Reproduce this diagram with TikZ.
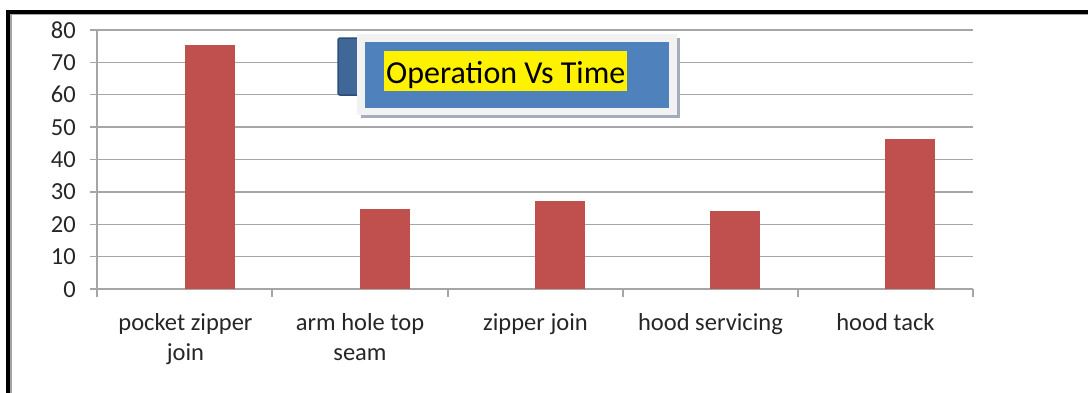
\documentclass[tikz,border=0pt]{standalone}
\usepackage{fontspec}
\setmainfont{Carlito}
\usepackage{tikz}
\usetikzlibrary{positioning}
\definecolor{barred}{HTML}{C0504D}
\definecolor{titleblue}{HTML}{4F81BD}
\definecolor{backblue}{HTML}{3F6899}
\definecolor{edgeblue}{HTML}{2C4D75}
\definecolor{gridgray}{HTML}{A6A6A6}
\definecolor{framegray}{HTML}{F2F2F2}
\definecolor{shadowgray}{HTML}{A5ADBA}
\definecolor{labelgray}{HTML}{262626}
\tikzset{
    gridline/.style = {draw=gridgray, line width=1.3pt},
    barfill/.style = {fill=barred, draw=none},
    ticklabel/.style = {anchor=base east, inner sep=0pt, text=labelgray,
      font=\fontsize{24.5}{30}\selectfont},
    catlabel/.style = {anchor=base, inner sep=0pt, align=center, text=labelgray,
      font=\fontsize{24.5}{30}\selectfont},
    titlenode/.style = {fill=yellow, inner xsep=2pt, inner ysep=0pt,
      text height=32pt, text depth=8pt, font=\fontsize{32}{38}\selectfont},
    borderline/.style = {draw=black, line width=4pt}
}
\begin{document}
\begin{tikzpicture}[x=1pt, y=-1pt]
    \useasboundingbox (0,0) rectangle (1088,392);
    % frame
    \draw [draw=gray!70, line width=1.5pt] (11,396) -- (11,14.5) -- (1092,14.5);
    \draw [borderline] (8,396) -- (8,12) -- (1092,12);

    % grid and value labels
    \foreach \v in {0,10,...,80} {
        \draw [gridline] (90,{289-\v*3.2375}) -- (973,{289-\v*3.2375});
        \node [ticklabel] (tick\v) at (76,{297-\v*3.2375}) {\v};
    }
    \draw [gridline] (97,30) -- (97,297);
    \foreach \x in {272,448,623,798,973}
        \draw [gridline] (\x,289) -- (\x,297);

    % bars
    \foreach \cx/\val [count=\i] in {185/75.5, 360/24.7, 535/27.3, 710/24.1, 885/46.4}
        \fill [barfill] (\cx,289) rectangle ({\cx+50},{289-\val*3.2375});

    % categories (base = last line)
    \node [catlabel] (cat1) at (185.5,360) {pocket zipper\\join};
    \node [catlabel] (cat2) at (360,360) {arm hole top\\seam};
    \node [catlabel] (cat3) at (535.5,330) {zipper join};
    \node [catlabel] (cat4) at (710.5,330) {hood servicing};
    \node [catlabel] (cat5) at (885.5,330) {hood tack};

    % title box
    \draw [fill=backblue, draw=edgeblue, line width=1.5pt, rounded corners=2pt]
        (338,38) rectangle (372,95);
    \fill [shadowgray] (361,38) rectangle (680,118);
    \fill [framegray] (357,34) rectangle (677,115);
    \fill [titleblue] (365,42) rectangle (669,108);
    \node [titlenode, anchor=north west] (title) at (384,51) {Operation Vs Time};
\end{tikzpicture}
\end{document}
